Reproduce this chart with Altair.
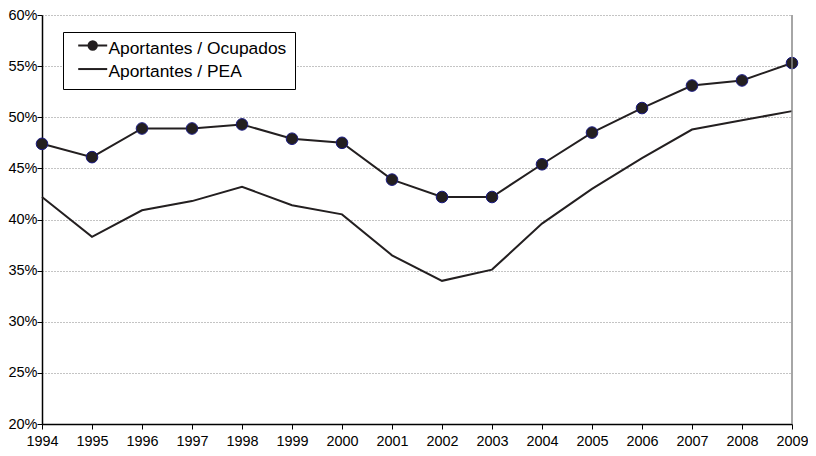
import altair as alt
import pandas as pd

years = list(range(1994, 2010))
ocupados = [47.4, 46.1, 48.9, 48.9, 49.3, 47.9, 47.5, 43.9, 42.2, 42.2, 45.4, 48.5, 50.9, 53.1, 53.6, 55.3]
pea = [42.2, 38.3, 40.9, 41.8, 43.2, 41.4, 40.5, 36.5, 34.0, 35.1, 39.6, 43.0, 46.0, 48.8, 49.7, 50.6]
series_names = ["Aportantes / Ocupados", "Aportantes / PEA"]
y_ticks = [20, 25, 30, 35, 40, 45, 50, 55, 60]

rows = []
for name, vals in zip(series_names, [ocupados, pea]):
    for yr, v in zip(years, vals):
        rows.append({"year": yr, "value": v, "serie": name})
df = pd.DataFrame(rows)

DARK = "#231f20"
FONT = "Liberation Sans"

x = alt.X(
    "year:Q",
    scale=alt.Scale(domain=[1994, 2009], nice=False, zero=False),
    axis=alt.Axis(values=years, format="d", title=None, grid=False, tickSize=5,
                  labelPadding=5, labelFlush=False, labelOverlap=False,
                  domainColor="black", domainWidth=1.5,
                  tickColor="black", tickWidth=1, labelFontSize=14.4),
)
y = alt.Y(
    "value:Q",
    scale=alt.Scale(domain=[20, 60], nice=False, zero=False),
    axis=alt.Axis(values=y_ticks, labelExpr="datum.value + '%'", title=None,
                  grid=True, gridDash=[1, 2], gridColor="#888888", gridWidth=1,
                  tickSize=5, labelPadding=0, labelFlush=False,
                  domainColor="black", domainWidth=1.5,
                  tickColor="black", labelFontSize=14.5),
)

lines = alt.Chart(df).mark_line(strokeWidth=2, color=DARK).encode(
    x=x, y=y, detail="serie:N"
)

points = (
    alt.Chart(df)
    .transform_filter(alt.datum.serie == series_names[0])
    .mark_circle(size=135, color=DARK, stroke="#1a1a80", strokeWidth=1, opacity=1)
    .encode(x=x, y=y)
)


def ring(r, cy):
    return f"M{-r},{cy}A{r},{r} 0 1,0 {r},{cy}A{r},{r} 0 1,0 {-r},{cy}"


CY = -0.45
path_pea = f"M-2.07,{CY}H2.07"
path_oc = path_pea + "".join(ring(r, CY) for r in [0.6, 0.45, 0.3, 0.15])

legend_layer = alt.Chart(df).mark_point(
    filled=False, color=DARK, strokeWidth=2, opacity=0
).encode(
    x=x,
    y=y,
    shape=alt.Shape(
        "serie:N",
        scale=alt.Scale(domain=series_names, range=[path_oc, path_pea]),
        legend=alt.Legend(
            title=None, orient="none", legendX=21, legendY=17,
            symbolSize=196, symbolOffset=13, labelOffset=7,
            labelFont=FONT, labelFontSize=17.4, labelColor="black",
            padding=8, strokeColor="black", fillColor="white", rowPadding=4.5,
            symbolOpacity=1, symbolStrokeWidth=2,
            symbolStrokeColor=DARK, labelLimit=400,
        ),
    ),
)

right_border = alt.Chart(pd.DataFrame({"year": [2009]})).mark_rule(
    color="#888888", strokeWidth=1.5
).encode(x=alt.X("year:Q"), y=alt.datum(20), y2=alt.datum(60))

chart = (
    alt.layer(lines, points, legend_layer, right_border)
    .properties(
        width=750, height=409,
        autosize=alt.AutoSizeParams(type="none"),
        padding={"left": 34, "top": 7, "right": 16, "bottom": 24},
    )
    .configure_view(stroke=None)
    .configure_axis(labelFont=FONT, labelColor="black")
)

chart.save("out.html", embed_options={"renderer": "svg", "actions": False})
